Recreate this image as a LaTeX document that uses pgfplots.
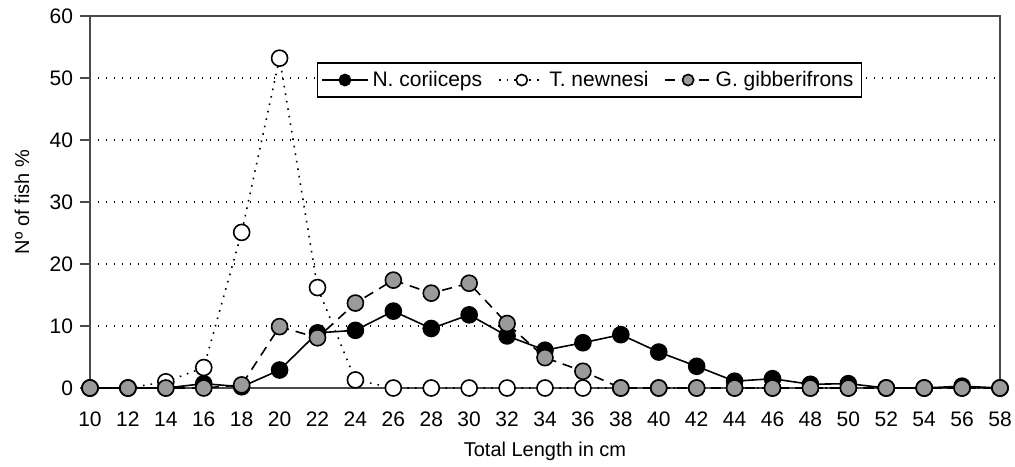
\documentclass[border=0pt]{standalone}
\usepackage{fontspec}
\setmainfont{Liberation Sans}
\usepackage{pgfplots}
\usepackage{pgfplotstable}
\pgfplotsset{compat=1.18}

\definecolor{axgray}{HTML}{4A4A4A}
\definecolor{fishgray}{HTML}{9A9A9A}

% length class (cm) and share of fish (%)
\pgfplotstableread{
x y
10 0
12 0
14 0
16 0.7
18 0.2
20 2.9
22 8.9
24 9.3
26 12.4
28 9.6
30 11.8
32 8.4
34 6.1
36 7.3
38 8.6
40 5.8
42 3.5
44 1.1
46 1.5
48 0.6
50 0.7
52 0
54 0
56 0.3
58 0
}\ncoriiceps

\pgfplotstableread{
x y
10 0
12 0
14 1.0
16 3.3
18 25.1
20 53.2
22 16.2
24 1.3
26 0
28 0
30 0
32 0
34 0
36 0
38 0
40 0
42 0
44 0
46 0
48 0
50 0
52 0
54 0
56 0
58 0
}\tnewnesi

\pgfplotstableread{
x y
10 0
12 0
14 0
16 0
18 0.5
20 9.9
22 8.1
24 13.7
26 17.4
28 15.3
30 16.9
32 10.4
34 4.9
36 2.7
38 0
40 0
42 0
44 0
46 0
48 0
50 0
52 0
54 0
56 0
58 0
}\ggibberifrons

\begin{document}
\begin{tikzpicture}
\begin{axis}[
    name=ax,
    scale only axis,
    width=455pt, height=186pt,
    xmin=10, xmax=58,
    ymin=0, ymax=60,
    xtick={10,12,...,58},
    ytick={0,10,...,60},
    clip=false,
    axis line style={axgray, line width=0.8pt},
    tick align=outside,
    xtick pos=bottom, ytick pos=left,
    x tick style={draw=none},
    y tick style={axgray, line width=0.8pt},
    major tick length=5pt,
    ymajorgrids=true,
    grid style={black, line width=0.7pt, dash pattern=on 0.7pt off 3.3pt},
    /pgf/number format/assume math mode=true,
    tick label style={font=\fontsize{10.5}{12}\selectfont},
    x tick label style={anchor=north, text height=7.6pt, text depth=0pt, yshift=-3pt},
    xlabel={Total Length in cm},
    ylabel={Nº of fish \%},
    label style={font=\fontsize{10.5}{12}\selectfont},
    every axis x label/.style={at={(rel axis cs:0.5,0)}, yshift=-31.5pt, anchor=center},
    every axis y label/.style={at={(rel axis cs:0,0.5)}, xshift=-34pt, rotate=90, anchor=center},
    legend columns=3,
    legend style={at={(0.249,0.876)}, anchor=north west, draw=black, line width=0.8pt,
        font=\fontsize{10.5}{12}\selectfont, inner sep=2pt,
        /tikz/every even column/.append style={column sep=6pt}},
    legend image code/.code={\draw[mark repeat=2,mark phase=2]
        plot coordinates {(0cm,0cm)(0.4cm,0cm)(0.8cm,0cm)};},
    every legend image post/.append style={mark size=2.8pt},
]
\addplot[black, line width=0.8pt, mark=*, mark size=4pt,
    mark options={solid, fill=black, draw=black}]
    table {\ncoriiceps};
\addplot[black, line width=0.8pt, dash pattern=on 0.8pt off 3pt, mark=*, mark size=4pt,
    mark options={solid, fill=white, draw=black}]
    table {\tnewnesi};
\addplot[black, line width=0.8pt, dash pattern=on 5pt off 3.5pt, mark=*, mark size=4pt,
    mark options={solid, fill=fishgray, draw=black}]
    table {\ggibberifrons};
\legend{N. coriiceps, T. newnesi, G. gibberifrons}
\end{axis}
\pgfresetboundingbox
\path ([xshift=-45pt,yshift=-39pt]ax.south west) rectangle ([xshift=7.5pt,yshift=8pt]ax.north east);
\end{tikzpicture}
\end{document}
